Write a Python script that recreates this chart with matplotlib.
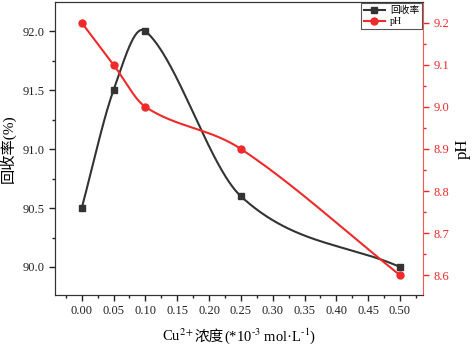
import numpy as np
import matplotlib
matplotlib.use("Agg")
import matplotlib.pyplot as plt
from matplotlib.ticker import MultipleLocator, FormatStrFormatter
from matplotlib.lines import Line2D
from matplotlib.offsetbox import TextArea, HPacker, AnchoredOffsetbox

plt.rcParams['font.family'] = ['Liberation Serif', 'Noto Sans CJK SC']
plt.rcParams['mathtext.fontset'] = 'stix'

# data
conc = [0.00, 0.05, 0.10, 0.25, 0.50]
recovery = [90.5, 91.5, 92.0, 90.6, 90.0]
ph = [9.2, 9.1, 9.0, 8.9, 8.6]
xticks = [0.00, 0.05, 0.10, 0.15, 0.20, 0.25, 0.30, 0.35, 0.40, 0.45, 0.50]

BLACK = "#333333"
RED = "#ee2a2a"


def smooth(x, y, xs):
    # cubic hermite, tangents from neighbouring points (catmull-rom style)
    x = np.asarray(x, float)
    y = np.asarray(y, float)
    n = len(x)
    m = np.zeros(n)
    m[0] = (y[1] - y[0]) / (x[1] - x[0])
    m[-1] = (y[-1] - y[-2]) / (x[-1] - x[-2])
    for i in range(1, n - 1):
        m[i] = (y[i + 1] - y[i - 1]) / (x[i + 1] - x[i - 1])
    idx = np.clip(np.searchsorted(x, xs) - 1, 0, n - 2)
    h = x[idx + 1] - x[idx]
    t = (xs - x[idx]) / h
    h00 = 2 * t**3 - 3 * t**2 + 1
    h10 = t**3 - 2 * t**2 + t
    h01 = -2 * t**3 + 3 * t**2
    h11 = t**3 - t**2
    return h00 * y[idx] + h10 * h * m[idx] + h01 * y[idx + 1] + h11 * h * m[idx + 1]


xs = np.linspace(conc[0], conc[-1], 400)

fig = plt.figure(figsize=(4.72, 3.47), dpi=100)
ax = fig.add_axes([0.1165, 0.150, 0.7795, 0.844])
ax2 = ax.twinx()

ax.plot(xs, smooth(conc, recovery, xs), color=BLACK, lw=1.5)
ax.plot(conc, recovery, 's', color=BLACK, ms=4.5)
ax2.plot(xs, smooth(conc, ph, xs), color=RED, lw=1.5)
ax2.plot(conc, ph, 'o', color=RED, ms=5)

ax.set_xlim(-0.042, 0.536)
ax.set_ylim(89.763, 92.246)
ax2.set_ylim(8.553, 9.249)

ax.set_xticks(xticks)
ax.set_xticklabels([f"{v:.2f}" for v in xticks])
ax.xaxis.set_minor_locator(MultipleLocator(0.025))
ax.yaxis.set_major_locator(MultipleLocator(0.5))
ax.yaxis.set_minor_locator(MultipleLocator(0.25))
ax.yaxis.set_major_formatter(FormatStrFormatter('%.1f'))
ax2.yaxis.set_major_locator(MultipleLocator(0.1))
ax2.yaxis.set_minor_locator(MultipleLocator(0.05))
ax2.yaxis.set_major_formatter(FormatStrFormatter('%.1f'))

ax.tick_params(axis='both', which='major', direction='out', length=4, width=1,
               labelsize=9, colors='#222222')
ax.tick_params(axis='both', which='minor', direction='out', length=2, width=1,
               colors='#222222')
ax2.tick_params(axis='y', which='major', direction='out', length=4, width=1,
                labelsize=9, colors=RED)
ax2.tick_params(axis='y', which='minor', direction='out', length=2, width=1,
                colors=RED)

for s in ('left', 'top', 'bottom'):
    ax.spines[s].set_color('#333333')
    ax2.spines[s].set_color('#333333')
ax2.spines['right'].set_color('#f05858')
ax.spines['right'].set_visible(False)

ax.set_ylabel("回收率(%)", fontsize=11, labelpad=5)
ax2.set_ylabel("pH", fontsize=12, labelpad=4)

# x label: mathtext cannot fall back to a CJK font, so build it from pieces
fs = 10.5
parts = [TextArea("Cu$^{2+}$", textprops=dict(fontsize=fs)),
         TextArea("浓度", textprops=dict(fontsize=fs)),
         TextArea(r"(*10$^{\text{-}3}$ mol·L$^{\text{-}1}$)", textprops=dict(fontsize=fs))]
xlab = HPacker(children=parts, align="baseline", pad=0, sep=0)
ab = AnchoredOffsetbox(loc='center', child=xlab, frameon=False, pad=0,
                       bbox_to_anchor=(0.506, 0.03), bbox_transform=fig.transFigure,
                       borderpad=0)
fig.add_artist(ab)

handles = [
    Line2D([], [], color=BLACK, lw=1.5, marker='s', ms=4.5, label="回收率"),
    Line2D([], [], color=RED, lw=1.5, marker='o', ms=5, label="pH"),
]
leg = ax2.legend(handles=handles, loc='upper right', fontsize=7, frameon=True,
                 fancybox=False, edgecolor='#555555', framealpha=1,
                 borderaxespad=0.1, handlelength=2.2, borderpad=0.3,
                 labelspacing=0.2, handletextpad=0.5)
leg.get_frame().set_linewidth(0.8)

fig.savefig("out.png", dpi=100)
